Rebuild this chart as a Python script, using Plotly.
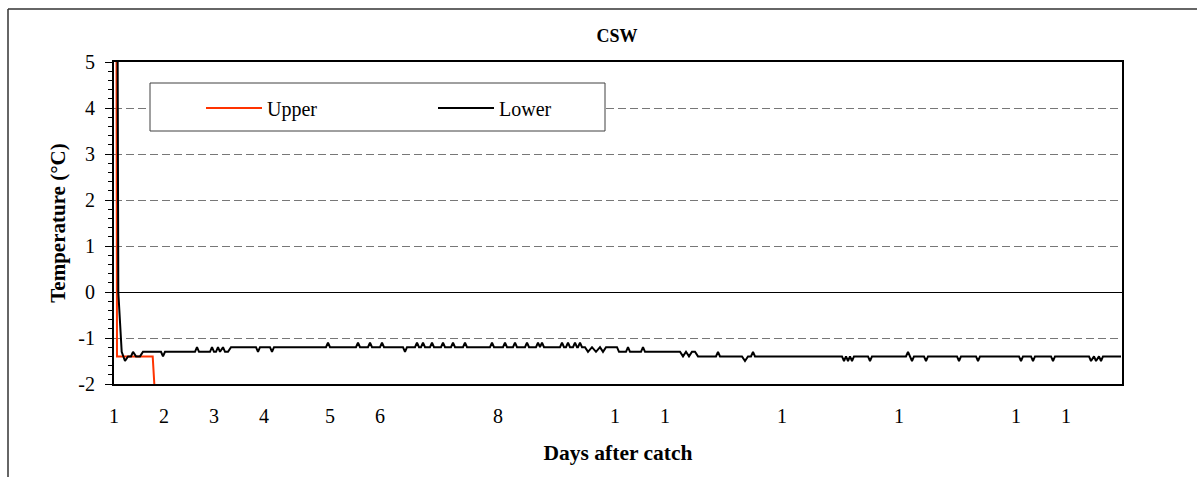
import plotly.graph_objects as go

# ---------------- data ----------------
# x = time index along the record (sample position); tick labels as printed on the chart
tick_pos = [0, 50, 100, 150, 216, 266, 384, 501, 551, 668, 785, 902, 952]
tick_text = ["1", "2", "3", "4", "5", "6", "8", "1", "1", "1", "1", "1", "1"]

y_tick_vals = [-2, -1, 0, 1, 2, 3, 4, 5]
y_tick_text = ["-2", "-1", "0", "1", "2", "3", "4", "5"]

upper_t = [2, 3, 38.7, 43]
upper_temp = [12.0, -1.4, -1.4, -3.0]

lower_t = [3.0, 4.3, 7.7, 11, 14, 17, 19, 22, 26, 29,
           47, 49, 51,
           81, 83, 85,
           96, 98, 100, 102, 104, 106, 109, 111, 114, 117,
           142, 144, 146, 156, 158, 160,
           212, 214, 216, 242, 244, 246, 254, 256, 258, 266, 268, 270,
           289, 291, 293,
           301, 303, 305, 307, 309, 311, 316, 318, 320, 327, 329, 331,
           337, 339, 341, 349, 351, 353,
           376, 378, 380, 389, 391, 393, 399, 401, 403, 411, 413, 415,
           422, 424, 426, 428, 430,
           446, 448, 450, 452, 454, 456, 459, 461, 463, 464, 466, 468,
           471, 474, 478, 482, 486, 489, 492, 503, 505,
           512, 514, 516, 527, 529, 531,
           566, 569, 572, 575, 578, 581, 584,
           602, 604, 606,
           628, 631, 634, 637, 639, 641,
           728, 730, 732, 734, 736, 738, 740,
           754, 756, 758,
           792, 794, 796, 798, 800,
           810, 812, 814,
           843, 845, 847, 862, 864, 866,
           905, 907, 909, 917, 919, 921, 937, 939, 941,
           975, 977, 980, 982, 985, 987, 989,
           1007]
lower_temp = [10.0, 0.0, -1.3, -1.5, -1.4, -1.4, -1.3, -1.4, -1.4, -1.3,
              -1.3, -1.4, -1.3,
              -1.3, -1.2, -1.3,
              -1.3, -1.2, -1.3, -1.3, -1.2, -1.3, -1.2, -1.3, -1.3, -1.2,
              -1.2, -1.3, -1.2, -1.2, -1.3, -1.2,
              -1.2, -1.1, -1.2, -1.2, -1.1, -1.2, -1.2, -1.1, -1.2, -1.2, -1.1, -1.2,
              -1.2, -1.3, -1.2,
              -1.2, -1.1, -1.2, -1.2, -1.1, -1.2, -1.2, -1.1, -1.2, -1.2, -1.1, -1.2,
              -1.2, -1.1, -1.2, -1.2, -1.1, -1.2,
              -1.2, -1.1, -1.2, -1.2, -1.1, -1.2, -1.2, -1.1, -1.2, -1.2, -1.1, -1.2,
              -1.2, -1.1, -1.2, -1.1, -1.2,
              -1.2, -1.1, -1.2, -1.2, -1.1, -1.2, -1.2, -1.1, -1.2, -1.2, -1.1, -1.2,
              -1.2, -1.3, -1.2, -1.3, -1.2, -1.3, -1.2, -1.2, -1.3,
              -1.3, -1.2, -1.3, -1.3, -1.2, -1.3,
              -1.3, -1.4, -1.3, -1.4, -1.3, -1.3, -1.4,
              -1.4, -1.3, -1.4,
              -1.4, -1.5, -1.4, -1.4, -1.3, -1.4,
              -1.4, -1.5, -1.4, -1.5, -1.4, -1.5, -1.4,
              -1.4, -1.5, -1.4,
              -1.4, -1.3, -1.4, -1.5, -1.4,
              -1.4, -1.5, -1.4,
              -1.4, -1.5, -1.4, -1.4, -1.5, -1.4,
              -1.4, -1.5, -1.4, -1.4, -1.5, -1.4, -1.4, -1.5, -1.4,
              -1.4, -1.5, -1.4, -1.5, -1.4, -1.5, -1.4,
              -1.4]

FONT = "Liberation Serif, Times New Roman, serif"

# plot-area geometry in px (used only for paper-coordinate decorations)
W, H = 1197, 477
L, R, T, B = 114, 75, 62, 93
PW, PH = W - L - R, H - T - B


def px_x(px):
    return (px - L) / PW


def px_y(py):
    return (H - B - py) / PH


fig = go.Figure()
fig.add_trace(go.Scatter(x=upper_t, y=upper_temp, mode="lines", name="Upper",
                         line=dict(color="#FF3300", width=2)))
fig.add_trace(go.Scatter(x=lower_t, y=lower_temp, mode="lines", name="Lower",
                         line=dict(color="black", width=2)))

fig.update_layout(
    width=W, height=H,
    margin=dict(l=L, r=R, t=T, b=B, pad=0),
    paper_bgcolor="white", plot_bgcolor="white",
    font=dict(family=FONT, size=20, color="black"),
    title=dict(text="<b>CSW</b>", x=px_x(617), xref="paper", xanchor="center",
               y=1 - 36 / H, yref="container", yanchor="middle",
               font=dict(family=FONT, size=18, color="black")),
    showlegend=True,
    legend=dict(orientation="h", x=px_x(201), xanchor="left", y=px_y(108), yanchor="middle",
                bgcolor="rgba(0,0,0,0)", borderwidth=0, itemwidth=56,
                entrywidth=161, entrywidthmode="pixels",
                font=dict(family=FONT, size=20, color="black")),
    xaxis=dict(range=[0, 1008], tickmode="array", tickvals=tick_pos, ticktext=tick_text,
               showgrid=False, zeroline=False, ticks="", showline=True, linecolor="black",
               linewidth=2, mirror=True, ticklabelstandoff=13,
               tickfont=dict(family=FONT, size=20, color="black"),
               title=dict(text="<b>Days after catch</b>", standoff=19,
                          font=dict(family=FONT, size=21.5, color="black"))),
    yaxis=dict(range=[-2, 5], tickmode="array", tickvals=y_tick_vals, ticktext=y_tick_text,
               showgrid=True, gridcolor="#777777",
               griddash="8px,4px", gridwidth=1, zeroline=True, zerolinecolor="black",
               zerolinewidth=1, ticks="outside", ticklen=7, tickcolor="black", tickwidth=1,
               showline=True, linecolor="black", linewidth=2, mirror=True,
               ticklabelstandoff=6,
               minor=dict(tickmode="linear", tick0=0, dtick=0.2, ticks="outside", ticklen=4,
                          tickcolor="black", showgrid=False),
               tickfont=dict(family=FONT, size=20, color="black"),
               title=dict(text="<b>Temperature (°C)</b>", standoff=7,
                          font=dict(family=FONT, size=21, color="black"))),
    shapes=[
        # legend frame
        dict(type="rect", xref="paper", yref="paper", x0=px_x(150), x1=px_x(605),
             y0=px_y(131), y1=px_y(83), line=dict(color="#404040", width=1),
             fillcolor="white", layer="above"),
        # outer chart frame
        dict(type="line", xref="paper", yref="paper", x0=px_x(8), x1=px_x(1210),
             y0=px_y(9), y1=px_y(9), line=dict(color="#333333", width=1.5)),
        dict(type="line", xref="paper", yref="paper", x0=px_x(8), x1=px_x(8),
             y0=px_y(9), y1=px_y(490), line=dict(color="#333333", width=1.5)),
    ],
)

fig.write_html("out.html")
